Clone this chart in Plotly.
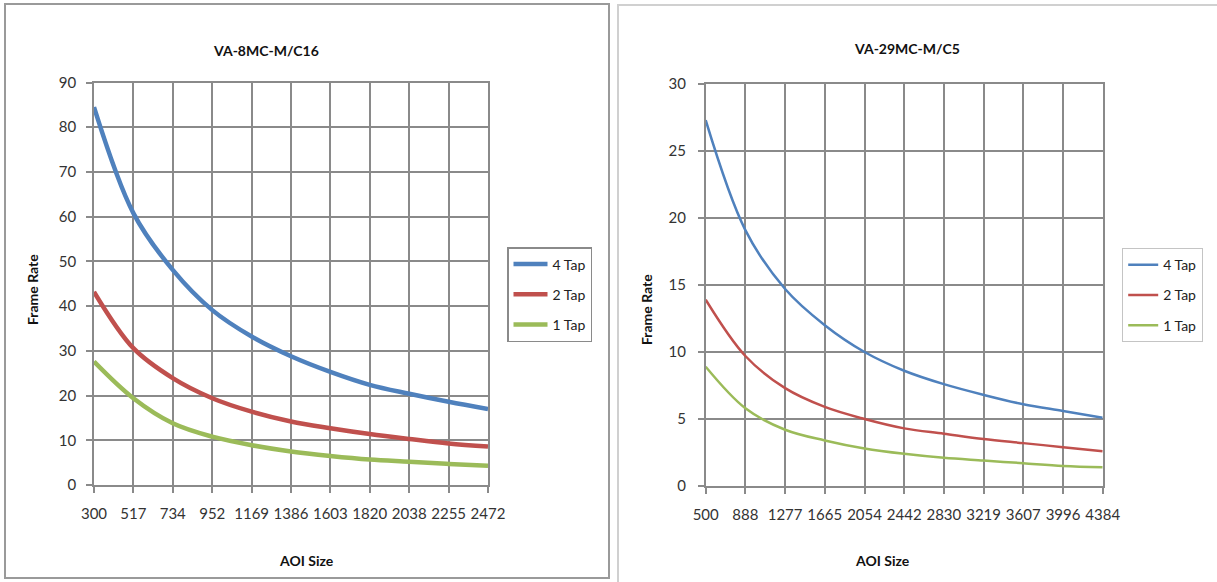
import plotly.graph_objects as go

W, H = 1217, 582

# ---------------- data ----------------
left_title = "VA-8MC-M/C16"
left_x = [300, 517, 734, 952, 1169, 1386, 1603, 1820, 2038, 2255, 2472]
left_4tap = [84.5, 60.8, 48.1, 39.1, 33.2, 28.8, 25.3, 22.4, 20.4, 18.6, 17.0]
left_2tap = [43.2, 30.6, 23.9, 19.4, 16.4, 14.2, 12.7, 11.4, 10.3, 9.3, 8.6]
left_1tap = [27.6, 19.4, 13.8, 10.8, 8.9, 7.5, 6.5, 5.7, 5.2, 4.7, 4.3]

right_title = "VA-29MC-M/C5"
right_x = [500, 888, 1277, 1665, 2054, 2442, 2830, 3219, 3607, 3996, 4384]
right_4tap = [27.3, 19.1, 14.7, 12.0, 10.0, 8.6, 7.6, 6.8, 6.1, 5.6, 5.1]
right_2tap = [13.9, 9.7, 7.3, 5.9, 5.0, 4.3, 3.9, 3.5, 3.2, 2.9, 2.6]
right_1tap = [8.9, 5.8, 4.2, 3.4, 2.8, 2.4, 2.1, 1.9, 1.7, 1.5, 1.4]

series_names = ["4 Tap", "2 Tap", "1 Tap"]
colors = ["#4F81BD", "#C0504D", "#9BBB59"]

FONT = "Lato"
GRID = "#8a8a8a"


def px_x(p):
    return p / W


def px_y(p):
    return 1 - p / H


fig = go.Figure()

for name, vals, col in zip(series_names, [left_4tap, left_2tap, left_1tap], colors):
    fig.add_trace(go.Scatter(x=left_x, y=vals, name=name, mode="lines",
                             line=dict(color=col, width=4.5, shape="spline"),
                             xaxis="x", yaxis="y", legend="legend",
                             legendgroup="L" + name))
for name, vals, col in zip(series_names, [right_4tap, right_2tap, right_1tap], colors):
    fig.add_trace(go.Scatter(x=right_x, y=vals, name=name, mode="lines",
                             line=dict(color=col, width=2.5, shape="spline"),
                             xaxis="x2", yaxis="y2", legend="legend2",
                             legendgroup="R" + name))

axis_common = dict(showgrid=True, gridcolor=GRID, gridwidth=1.6,
                   showline=True, linecolor=GRID, linewidth=1.6, mirror=True,
                   ticks="outside", ticklen=6, tickcolor=GRID, tickwidth=1.6,
                   zeroline=False, tickangle=0, automargin=False,
                   tickfont=dict(family=FONT, size=15, color="#333333"))

fig.update_layout(
    width=W, height=H,
    margin=dict(l=0, r=0, t=0, b=0, autoexpand=False),
    paper_bgcolor="white", plot_bgcolor="white",
    showlegend=True,
    xaxis=dict(domain=[px_x(94), px_x(488)], range=[left_x[0], left_x[-1]],
               tickvals=left_x, ticktext=[str(v) for v in left_x],
               ticklabelstandoff=8, anchor="y", **axis_common),
    yaxis=dict(domain=[px_y(485), px_y(82.5)], range=[0, 90], dtick=10,
               ticklabelstandoff=7, anchor="x", **axis_common),
    xaxis2=dict(domain=[px_x(705.7), px_x(1102.7)], range=[right_x[0], right_x[-1]],
                tickvals=right_x, ticktext=[str(v) for v in right_x],
                ticklabelstandoff=8, anchor="y2", **axis_common),
    yaxis2=dict(domain=[px_y(486), px_y(84)], range=[0, 30], dtick=5,
                ticklabelstandoff=9, anchor="x2", **axis_common),
    legend=dict(x=px_x(507), y=px_y(247), xanchor="left", yanchor="top",
                bordercolor="#8a8a8a", borderwidth=1.5, bgcolor="white",
                font=dict(family=FONT, size=14, color="#222222"),
                tracegroupgap=9, itemwidth=34),
    legend2=dict(x=px_x(1122), y=px_y(248), xanchor="left", yanchor="top",
                 bordercolor="#c4c4c4", borderwidth=1.2, bgcolor="white",
                 font=dict(family=FONT, size=14, color="#222222"),
                 tracegroupgap=9, itemwidth=30),
)

ann_font = dict(family=FONT, size=14, color="#111111")
annotations = [
    dict(text="<b>" + left_title + "</b>", x=px_x(266), y=px_y(50)),
    dict(text="<b>AOI Size</b>", x=px_x(306), y=px_y(560)),
    dict(text="<b>Frame Rate</b>", x=px_x(32), y=px_y(290), textangle=-90),
    dict(text="<b>" + right_title + "</b>", x=px_x(907), y=px_y(48)),
    dict(text="<b>AOI Size</b>", x=px_x(882), y=px_y(560)),
    dict(text="<b>Frame Rate</b>", x=px_x(646), y=px_y(310), textangle=-90),
]
for a in annotations:
    fig.add_annotation(xref="paper", yref="paper", showarrow=False,
                       xanchor="center", yanchor="middle", font=ann_font, **a)

# chart panel borders
fig.add_shape(type="rect", xref="paper", yref="paper",
              x0=px_x(5), x1=px_x(609), y0=px_y(578), y1=px_y(4),
              line=dict(color="#9a9a9a", width=2), layer="below")
fig.add_shape(type="rect", xref="paper", yref="paper",
              x0=px_x(618), x1=px_x(1220), y0=px_y(585), y1=px_y(5),
              line=dict(color="#d0d0d0", width=2), layer="below")

fig.write_html("out.html",
               config={"displayModeBar": False},
               post_script="document.body.style.margin='0px';"
                           "document.body.style.overflow='hidden';")
